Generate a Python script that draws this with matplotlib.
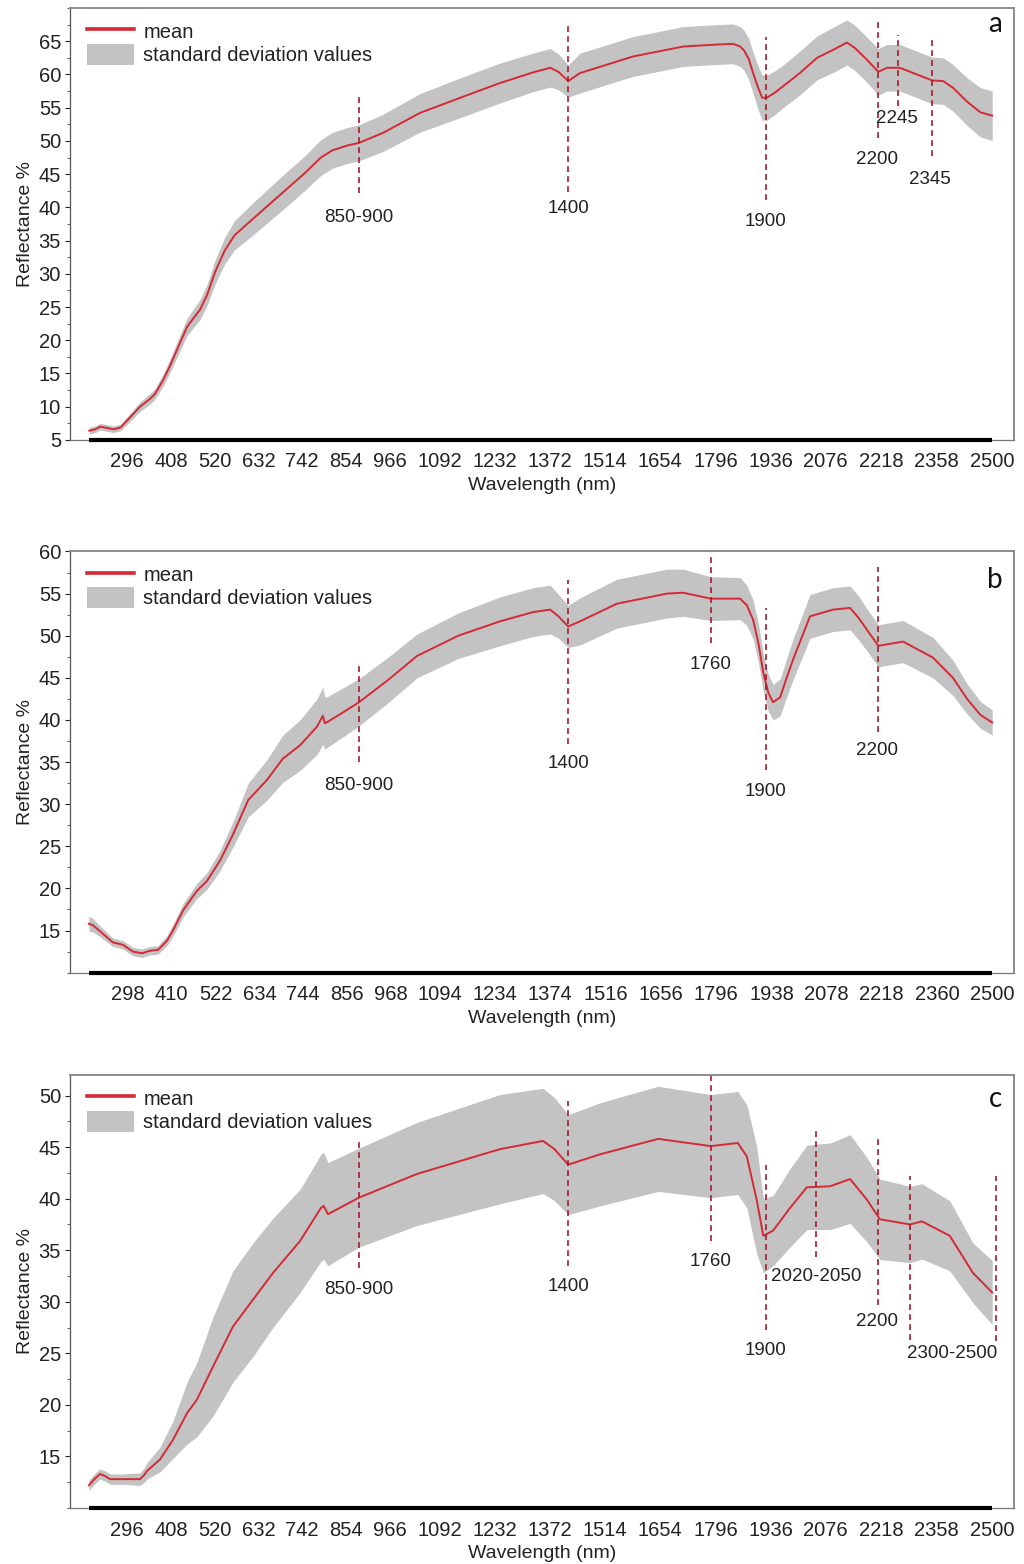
import matplotlib.pyplot as plt
import numpy as np
from matplotlib.ticker import MultipleLocator

plt.rcParams['font.family'] = ['Liberation Sans', 'DejaVu Sans']

## Panel a: wavelength (nm), mean reflectance (%), standard deviation
wl_a = [200, 215, 228, 245, 262, 280, 304, 329, 355, 367, 388, 406, 431, 449, 464, 482,
        500, 520, 545, 570, 610, 650, 700, 750, 790, 820, 857, 887, 948, 1042, 1150, 1246,
        1330, 1374, 1395, 1420, 1450, 1520, 1585, 1713, 1800, 1840, 1858, 1868, 1880, 1891,
        1905, 1914, 1926, 1945, 1967, 2010, 2054, 2095, 2130, 2150, 2181, 2210, 2232, 2265,
        2308, 2347, 2375, 2400, 2436, 2470, 2500]
mean_a = [6.4, 6.6, 7.0, 6.8, 6.6, 6.9, 8.4, 10.0, 11.2, 11.9, 14.0, 16.2, 19.6, 22.0, 23.2, 24.6,
          26.8, 30.2, 33.5, 35.8, 37.9, 40.0, 42.6, 45.2, 47.5, 48.6, 49.3, 49.7, 51.2, 54.2, 56.6, 58.7,
          60.3, 61.0, 60.4, 59.0, 60.2, 61.5, 62.7, 64.2, 64.5, 64.6, 64.2, 63.6, 62.3, 60.2,
          57.8, 56.5, 56.5, 57.2, 58.2, 60.2, 62.5, 63.7, 64.8, 64.0, 62.2, 60.4, 61.0, 61.0,
          60.0, 59.1, 59.0, 58.0, 55.9, 54.3, 53.8]
sd_a = [0.5, 0.5, 0.5, 0.5, 0.5, 0.5, 0.6, 0.7, 0.8, 0.8, 0.9, 1.0, 1.2, 1.3, 1.4, 1.5,
        1.6, 1.8, 2.0, 2.2, 2.4, 2.5, 2.6, 2.6, 2.7, 2.7, 2.7, 2.7, 2.8, 2.9, 3.0, 3.0,
        2.9, 2.9, 2.7, 2.4, 3.0, 3.0, 3.0, 3.0, 3.0, 3.0, 3.0, 3.0, 3.1, 3.1,
        3.3, 3.4, 3.4, 3.3, 3.2, 3.3, 3.3, 3.4, 3.4, 3.4, 3.4, 3.5, 3.5, 3.5,
        3.5, 3.5, 3.5, 3.5, 3.6, 3.7, 3.75]
ticks_a = [296, 408, 520, 632, 742, 854, 966, 1092, 1232, 1372, 1514, 1654, 1796, 1936,
           2076, 2218, 2358, 2500]
yticks_a = [5, 10, 15, 20, 25, 30, 35, 40, 45, 50, 55, 60, 65]
marks_a = [887, 1420, 1923, 2210, 2260, 2346]
labels_a = ['850-900', '1400', '1900', '2200', '2245', '2345']

## Panel b
wl_b = [199, 210, 220, 235, 260, 286, 311, 334, 355, 375, 398, 413, 439, 474, 500, 533,
        566, 605, 653, 693, 737, 780, 795, 800, 808, 850, 887, 960, 1035, 1140, 1246,
        1330, 1374, 1395, 1420, 1450, 1544, 1672, 1713, 1783, 1858, 1875, 1891, 1905, 1917,
        1930, 1942, 1960, 1975, 1993, 2036, 2095, 2138, 2160, 2181, 2210, 2273, 2349, 2400,
        2436, 2470, 2500]
mean_b = [15.8, 15.6, 15.2, 14.6, 13.6, 13.3, 12.5, 12.3, 12.6, 12.7, 13.8, 15.0, 17.4, 19.7, 20.9, 23.3,
          26.4, 30.5, 32.9, 35.4, 37.0, 39.2, 40.5, 39.6, 39.8, 41.0, 42.1, 44.7, 47.6, 50.0, 51.7,
          52.8, 53.1, 52.3, 51.1, 51.7, 53.8, 55.0, 55.1, 54.4, 54.4, 53.6, 51.9, 49.0, 45.6,
          43.2, 42.1, 42.7, 44.8, 47.2, 52.3, 53.1, 53.3, 52.1, 50.7, 48.8, 49.3, 47.4, 45.0,
          42.5, 40.6, 39.7]
sd_b = [0.9, 0.8, 0.7, 0.6, 0.5, 0.5, 0.5, 0.5, 0.5, 0.5, 0.6, 0.7, 0.8, 0.9, 1.0, 1.2,
        1.5, 2.0, 2.4, 2.8, 3.0, 3.3, 3.4, 3.1, 3.0, 2.9, 2.8, 2.7, 2.6, 2.7, 2.9,
        2.9, 2.9, 2.6, 2.5, 2.8, 2.9, 2.9, 2.8, 2.6, 2.5, 2.4, 2.3, 2.3, 2.2,
        2.2, 2.1, 2.2, 2.3, 2.4, 2.6, 2.6, 2.6, 2.6, 2.5, 2.5, 2.5, 2.4, 2.1,
        1.8, 1.6, 1.5]
ticks_b = [298, 410, 522, 634, 744, 856, 968, 1094, 1234, 1374, 1516, 1656, 1796, 1938,
           2078, 2218, 2360, 2500]
yticks_b = [15, 20, 25, 30, 35, 40, 45, 50, 55, 60]
marks_b = [887, 1420, 1783, 1923, 2210]
labels_b = ['850-900', '1400', '1760', '1900', '2200']

## Panel c
wl_c = [199, 213, 227, 240, 253, 278, 329, 340, 347, 380, 413, 449, 474, 515, 566, 617,
        668, 737, 790, 797, 808, 887, 1035, 1246, 1356, 1385, 1420, 1501, 1649, 1783,
        1852, 1875, 1900, 1917, 1942, 1985, 2028, 2087, 2138, 2181, 2214, 2291, 2321,
        2392, 2451, 2500]
mean_c = [12.2, 12.8, 13.3, 13.1, 12.8, 12.8, 12.8, 13.2, 13.6, 14.7, 16.6, 19.2, 20.5, 23.7, 27.6, 30.2,
          32.8, 35.9, 39.1, 39.3, 38.5, 40.1, 42.4, 44.8, 45.6, 44.8, 43.3, 44.3, 45.8, 45.1,
          45.4, 44.1, 39.9, 36.4, 36.9, 39.1, 41.1, 41.2, 41.9, 39.9, 38.0, 37.5, 37.8,
          36.4, 32.8, 30.9]
sd_c = [0.5, 0.5, 0.5, 0.5, 0.5, 0.5, 0.6, 0.7, 0.8, 1.2, 1.8, 3.0, 3.6, 4.8, 5.4, 5.5,
        5.3, 5.0, 5.2, 5.2, 5.0, 4.8, 5.0, 5.3, 5.1, 5.0, 4.85, 5.0, 5.1, 5.0,
        5.0, 5.0, 5.2, 3.6, 3.4, 3.8, 4.1, 4.2, 4.3, 4.1, 3.9, 3.7, 3.65,
        3.4, 2.9, 3.1]
ticks_c = ticks_a
yticks_c = [15, 20, 25, 30, 35, 40, 45, 50]
marks_c = [887, 1420, 1783, 1923, 2051, 2210, 2291, 2509]
labels_c = ['850-900', '1400', '1760', '1900', '2020-2050', '2200', '2300-2500', None]

## Layout: dashed line extents (y bottom, y top) and label positions (x, y)
spans_a = [(42.2, 56.8), (42.3, 67.8), (41.1, 65.7), (50.5, 68.5), (55.2, 66.0), (47.7, 65.2)]
lpos_a = [(887, 38.4), (1420, 39.9), (1923, 37.9), (2206, 47.2), (2258, 53.4), (2342, 44.2)]
spans_b = [(35.0, 46.6), (37.2, 56.6), (49.1, 59.3), (34.0, 53.3), (38.6, 58.2)]
lpos_b = [(887, 32.2), (1420, 34.8), (1783, 46.6), (1923, 31.5), (2206, 36.4)]
spans_c = [(33.3, 45.9), (33.5, 49.5), (35.9, 52.0), (27.3, 43.3), (34.3, 46.9),
           (29.7, 45.8), (26.3, 42.2), (26.2, 42.2)]
lpos_c = [(887, 31.2), (1420, 31.5), (1783, 33.9), (1923, 25.3), (2051, 32.5),
          (2206, 28.1), (2397, 25.0), None]

RED = '#d42a35'
DARKRED = '#a8182a'
GRAY = '#c3c3c3'
TXT = '#222222'


def draw_panel(ax, wl, mean, sd, ticks, ylim, yticks, marks, labels, spans, lpos, letter, letter_y):
    wl = np.array(wl)
    mean = np.array(mean)
    sd = np.array(sd)
    band = ax.fill_between(wl, mean - sd, mean + sd, color=GRAY, lw=0)
    line, = ax.plot(wl, mean, color=RED, lw=1.4)

    # annotated absorption features
    for m, lab, sp, lp in zip(marks, labels, spans, lpos):
        ax.plot([m, m], sp, color=DARKRED, lw=1.2, ls=(0, (3.5, 2.5)))
        if lab is not None:
            ax.text(lp[0], lp[1], lab, ha='center', va='center', fontsize=13.5, color=TXT)

    ax.set_xlim(151, 2556)
    ax.set_ylim(*ylim)
    ax.set_xticks(ticks)
    ax.set_xticklabels([str(t) for t in ticks])
    ax.tick_params(axis='x', length=0, pad=9, labelsize=14.5, colors=TXT)
    ax.set_yticks(yticks)
    ax.set_yticklabels([str(t) for t in yticks])
    ax.yaxis.set_minor_locator(MultipleLocator(2.5))
    ax.tick_params(axis='y', which='major', length=3.5, width=0.8, pad=3, labelsize=14.5,
                   colors=TXT, direction='out')
    ax.tick_params(axis='y', which='minor', length=2, width=0.6, colors='#444444')

    # thick black bar over the sampled range on the x axis
    ax.plot([wl[0], wl[-1]], [ylim[0], ylim[0]], color='black', lw=3.0,
            solid_capstyle='butt', clip_on=False, zorder=5)

    for s in ['top', 'right']:
        ax.spines[s].set_color('#8c8c8c')
        ax.spines[s].set_linewidth(1.4)
    ax.spines['left'].set_color('#555555')
    ax.spines['left'].set_linewidth(0.9)
    ax.spines['bottom'].set_color('#777777')
    ax.spines['bottom'].set_linewidth(0.9)

    ax.set_xlabel('Wavelength (nm)', fontsize=14, labelpad=4, color=TXT)
    ax.set_ylabel('Reflectance %', fontsize=14, labelpad=3, color=TXT)

    leg = ax.legend([line, band], ['mean', 'standard deviation values'], loc='upper left',
                    bbox_to_anchor=(0.018, 0.97), frameon=False, fontsize=14.5,
                    handlelength=2.35, handleheight=1.2, handletextpad=0.45,
                    labelspacing=0.1, borderaxespad=0, borderpad=0)
    leg.legend_handles[0].set_linewidth(2.6)
    for t in leg.get_texts():
        t.set_color(TXT)

    ax.text(0.98, letter_y, letter, transform=ax.transAxes, ha='center', va='baseline',
            fontsize=20, family=['Lato', 'DejaVu Sans'], color='#111111')


fig = plt.figure(figsize=(10.24, 15.64), dpi=100)
ax_a = fig.add_axes([0.0684, 0.7187, 0.922, 0.2762])
ax_b = fig.add_axes([0.0684, 0.3781, 0.922, 0.2693])
ax_c = fig.add_axes([0.0684, 0.0358, 0.922, 0.2769])

draw_panel(ax_a, wl_a, mean_a, sd_a, ticks_a, (5, 70), yticks_a, marks_a, labels_a,
           spans_a, lpos_a, 'a', 0.945)
draw_panel(ax_b, wl_b, mean_b, sd_b, ticks_b, (10, 60), yticks_b, marks_b, labels_b,
           spans_b, lpos_b, 'b', 0.913)
draw_panel(ax_c, wl_c, mean_c, sd_c, ticks_c, (10, 52), yticks_c, marks_c, labels_c,
           spans_c, lpos_c, 'c', 0.927)

fig.savefig('out.png', dpi=100)
